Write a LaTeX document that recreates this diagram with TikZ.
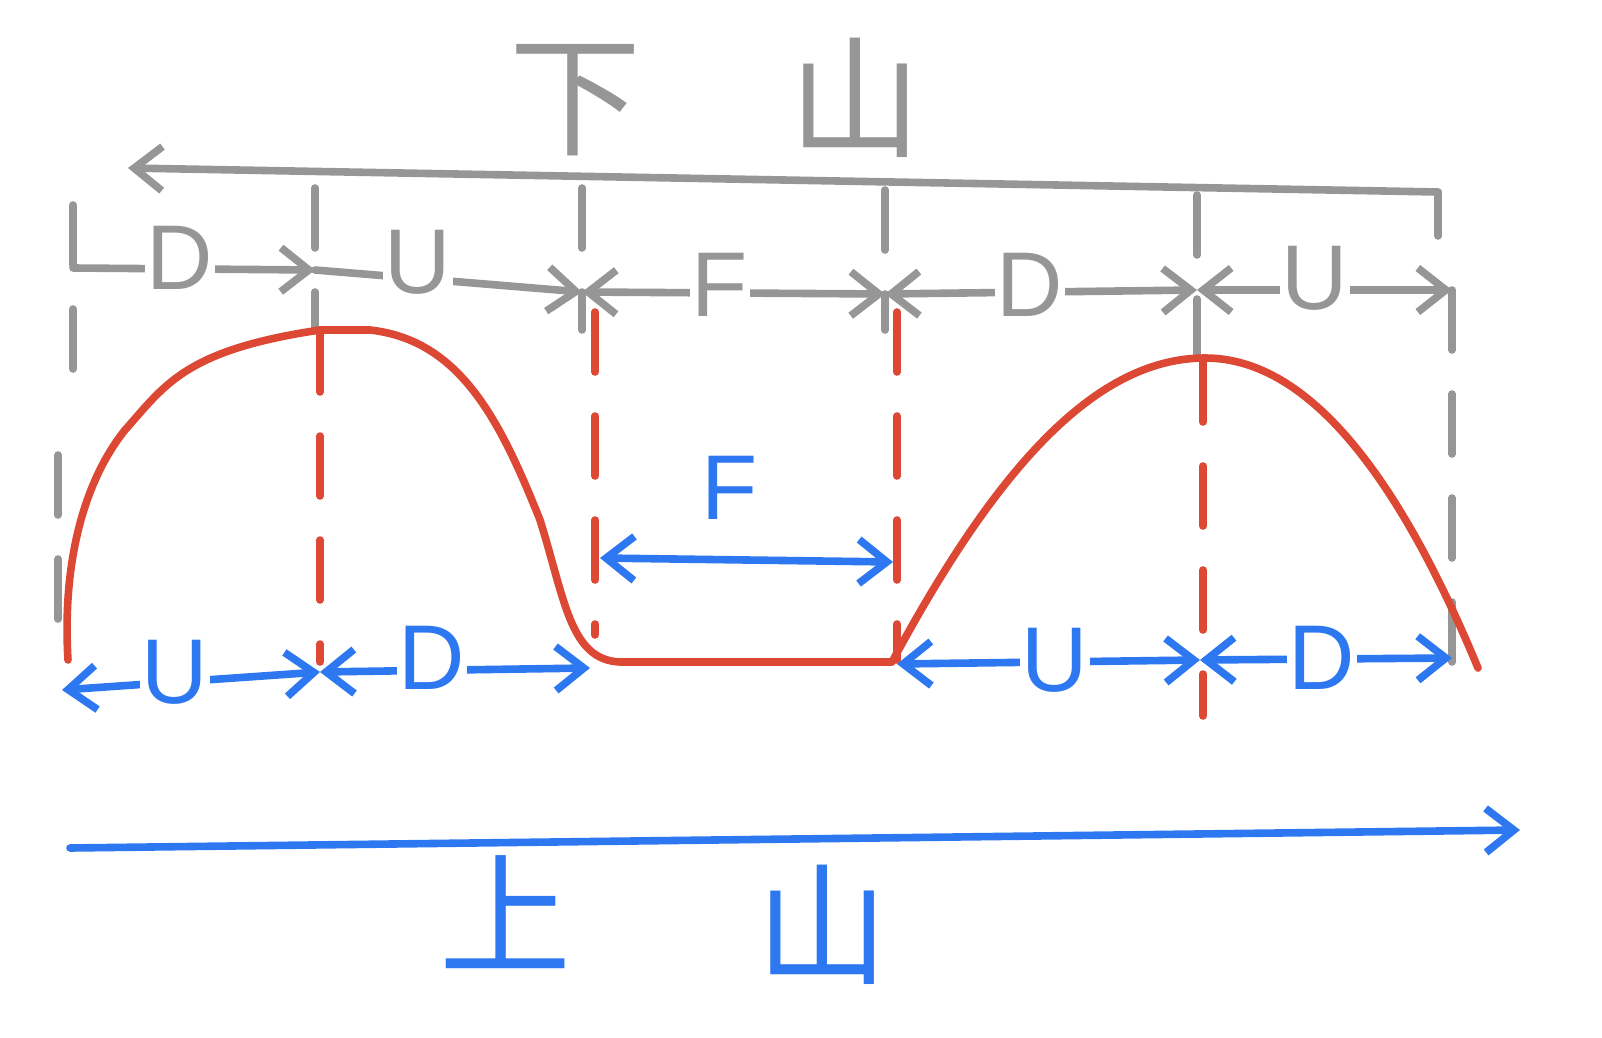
\documentclass[tikz,border=0pt]{standalone}
\usepackage{fontspec}
\setmainfont{Liberation Sans}
\newfontfamily\cjk{Noto Sans CJK SC}
\usetikzlibrary{arrows.meta}
\definecolor{sgray}{RGB}{150,150,150}
\definecolor{sred}{RGB}{220,72,52}
\definecolor{sblue}{RGB}{45,120,240}
\begin{document}
\begin{tikzpicture}[x=0.5pt,y=-0.5pt,
  pen/.style={line width=3.8pt,line cap=round,line join=round},
  gpen/.style={pen,draw=sgray},
  rpen/.style={pen,draw=sred},
  bpen/.style={pen,draw=sblue},
  dsh/.style={dash pattern=on 30pt off 22pt},
  tip/.style={-{Straight Barb[length=14pt,width=22pt,line width=3.8pt]}},
  tips/.style={{Straight Barb[length=14pt,width=22pt,line width=3.8pt]}-{Straight Barb[length=14pt,width=22pt,line width=3.8pt]}},
  glab/.style={text=sgray,font=\fontsize{46}{46}\selectfont,fill=white,inner sep=1pt},
  blab/.style={text=sblue,font=\fontsize{46}{46}\selectfont,fill=white,inner sep=1pt},
  cjklab/.style={font=\cjk\fontsize{66}{66}\selectfont,inner sep=0pt}]
\useasboundingbox (0,0) rectangle (1602,1038);
% titles
\node[cjklab,text=sgray] (down1) at (575,100) {下};
\node[cjklab,text=sgray] (down2) at (855,98) {山};
\node[cjklab,text=sblue] (up1) at (505,912) {上};
\node[cjklab,text=sblue] (up2) at (822,925) {山};
% gray top arrow
\coordinate (gR) at (1438,192); \coordinate (gL) at (128,168);
\draw[gpen] (1438,236) -- (gR);
\draw[gpen,tip] (gR) -- (gL);
% gray verticals
\foreach \x/\a/\b in {73/205/380,315/188/330,582/188/330,885/190/330,1197/195/355,1452/290/672}
  \draw[gpen,dsh] (\x,\a) -- (\x,\b);
\draw[gpen,dsh] (58,455) -- (58,660);
% gray intervals
\coordinate (g0) at (73,268); \coordinate (g1) at (315,270);
\coordinate (g2) at (582,292); \coordinate (g3) at (885,294);
\coordinate (g4) at (1197,290); \coordinate (g5) at (1452,290);
\draw[gpen,tip] (g0) -- (g1);
\draw[gpen,tip] (g1) -- (g2);
\draw[gpen,tips] (g2) -- (g3);
\draw[gpen,tips] (g3) -- (g4);
\draw[gpen,tips] (g4) -- (g5);
\node[glab] (gD1) at (180,258) {D};
\node[glab] (gU1) at (418,262) {U};
\node[glab] (gF) at (720,285) {F};
\node[glab] (gD2) at (1030,285) {D};
\node[glab] (gU2) at (1315,278) {U};
% red curve
\draw[rpen] (68,660) .. controls (62,560) and (85,480) .. (125,430)
  .. controls (165,385) and (185,350) .. (320,330) -- (370,330)
  .. controls (460,340) and (500,420) .. (540,520)
  .. controls (565,600) and (570,660) .. (620,662) -- (892,662)
  .. controls (990,480) and (1090,358) .. (1205,358)
  .. controls (1310,358) and (1400,480) .. (1478,668);
\foreach \x/\a/\b in {320/332/662,595/312/635,897/312/660,1203/362/716}
  \draw[rpen,dsh] (\x,\a) -- (\x,\b);
% blue intervals
\coordinate (b0) at (62,690); \coordinate (b1) at (320,672);
\coordinate (b2) at (590,668); \coordinate (b3) at (897,664);
\coordinate (b4) at (1200,660); \coordinate (b5) at (1452,658);
\draw[bpen,tips] (b0) -- (b1);
\draw[bpen,tips] (b1) -- (b2);
\draw[bpen,tips] (b3) -- (b4);
\draw[bpen,tips] (b4) -- (b5);
\node[blab] (bU1) at (175,672) {U};
\node[blab] (bD1) at (432,658) {D};
\node[blab] (bU2) at (1055,660) {U};
\node[blab] (bD2) at (1322,658) {D};
% blue F
\coordinate (f0) at (600,558); \coordinate (f1) at (893,562);
\draw[bpen,tips] (f0) -- (f1);
\node[blab,fill=none] (bF) at (730,488) {F};
% blue long arrow
\coordinate (l0) at (70,848); \coordinate (l1) at (1520,830);
\draw[bpen,tip] (l0) -- (l1);
\end{tikzpicture}
\end{document}
